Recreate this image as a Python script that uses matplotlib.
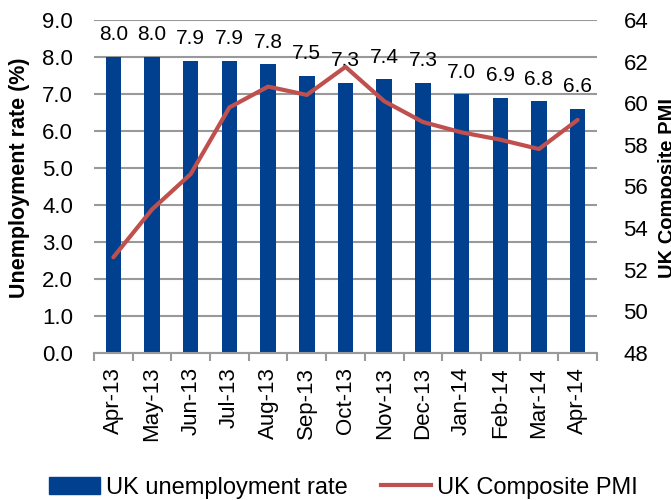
import matplotlib
matplotlib.use("Agg")
import matplotlib.pyplot as plt
import numpy as np
from matplotlib.lines import Line2D
from matplotlib.patches import Patch

plt.rcParams['font.family'] = ['Liberation Sans', 'DejaVu Sans']

# 月份与数据
months = ['Apr-13', 'May-13', 'Jun-13', 'Jul-13', 'Aug-13', 'Sep-13', 'Oct-13',
          'Nov-13', 'Dec-13', 'Jan-14', 'Feb-14', 'Mar-14', 'Apr-14']
unemployment = [8.0, 8.0, 7.9, 7.9, 7.8, 7.5, 7.3, 7.4, 7.3, 7.0, 6.9, 6.8, 6.6]
pmi = [52.6, 54.9, 56.6, 59.8, 60.8, 60.4, 61.75, 60.1, 59.1, 58.6, 58.25, 57.8, 59.2]

bar_color = '#00408F'
line_color = '#C0504D'
grid_color = '#999999'
fs = 16

fig = plt.figure(figsize=(6.71, 5.0), dpi=100)
ax = fig.add_axes([94 / 671, 1 - 353 / 500, 503 / 671, 333 / 500])
x = np.arange(len(months))

# 失业率柱状图
ax.bar(x, unemployment, width=0.4, color=bar_color, zorder=2)
for xi, v in zip(x, unemployment):
    ax.annotate(f'{v:.1f}', (xi, v), xytext=(0, 9), textcoords='offset points',
                ha='center', va='bottom', fontsize=fs - 1)

ax.set_xlim(-0.5, len(months) - 0.5)
ax.set_ylim(0, 9)
ax.set_yticks(np.arange(0, 9.1, 1.0))
ax.set_yticklabels([f'{v:.1f}' for v in np.arange(0, 9.1, 1.0)], fontsize=fs)
ax.grid(axis='y', color=grid_color, linewidth=1.5, zorder=0)
ax.set_axisbelow(True)
ax.tick_params(axis='y', length=0, pad=15)
ax.set_xticks(x)
ax.set_xticklabels(months, rotation=90, fontsize=fs)
ax.tick_params(axis='x', length=0, pad=10)
ax.set_xticks(np.arange(-0.5, len(months), 1.0), minor=True)
ax.tick_params(axis='x', which='minor', length=6, color=grid_color, width=1.5)
for s in ['top', 'left', 'right']:
    ax.spines[s].set_visible(False)
ax.spines['bottom'].set_color(grid_color)
ax.spines['bottom'].set_linewidth(1.5)
fig.text(9 / 671, 1 - 178 / 500, 'Unemployment rate (%)', rotation=90,
         ha='left', va='center', fontsize=15.5, fontweight='bold')

# 综合PMI折线（右轴）
ax2 = ax.twinx()
ax2.plot(x, pmi, color=line_color, linewidth=3, solid_capstyle='round', zorder=3)
ax2.set_ylim(48, 64)
ax2.set_yticks(np.arange(48, 65, 2))
ax2.set_yticklabels([str(v) for v in range(48, 65, 2)], fontsize=fs)
ax2.tick_params(axis='y', length=0, pad=19)
for s in ax2.spines.values():
    s.set_visible(False)
fig.text(658 / 671, 1 - 188 / 500, 'UK Composite PMI', rotation=90,
         ha='left', va='center', fontsize=14.5, fontweight='bold')

# 图例
handles = [Patch(color=bar_color, label='UK unemployment rate'),
           Line2D([0], [0], color=line_color, linewidth=3, label='UK Composite PMI')]
fig.legend(handles=handles, loc='lower center', bbox_to_anchor=(0.512, -0.04), ncol=2,
           frameon=False, fontsize=17, handlelength=2.15, handletextpad=0.25,
           columnspacing=1.4)

fig.savefig('out.png', dpi=100)
